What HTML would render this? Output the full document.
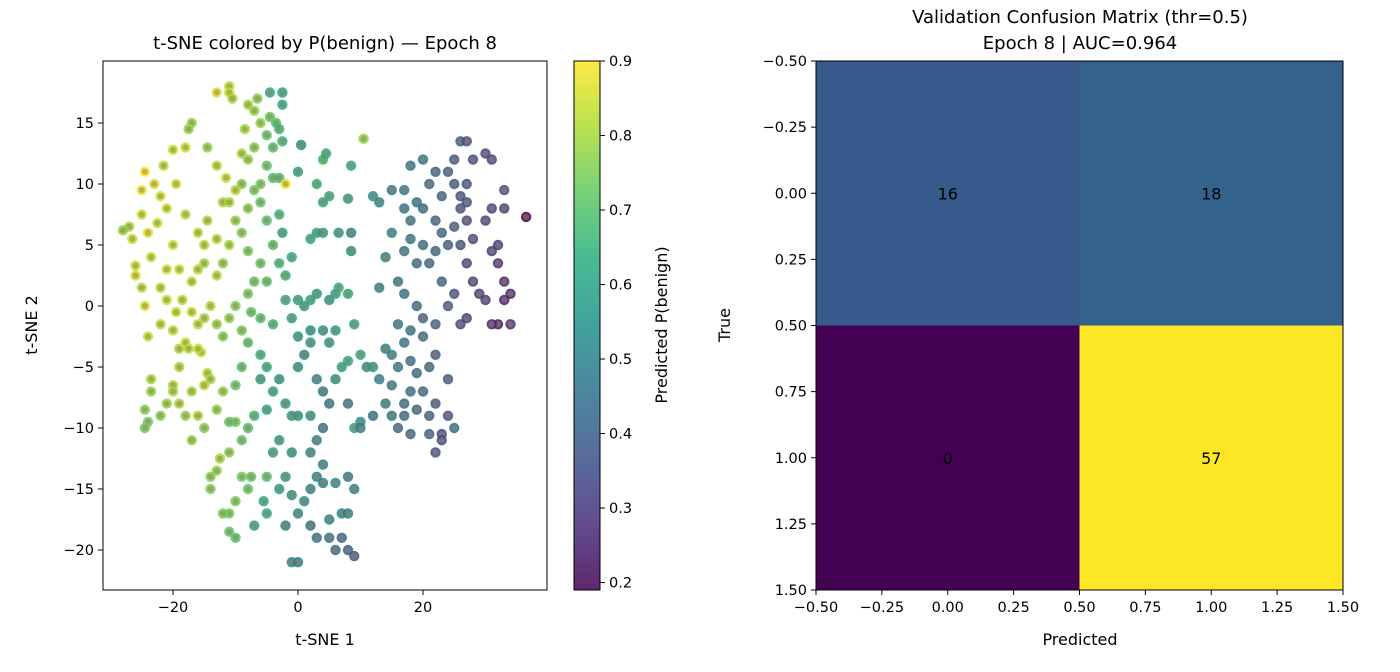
<!DOCTYPE html>
<html><head><meta charset="utf-8"><style>
html,body{margin:0;padding:0;background:#fff;}
svg{display:block;font-family:"DejaVu Sans","Liberation Sans",sans-serif;}
</style></head><body>
<svg id="fig" width="1400" height="672" viewBox="0 0 1400 672" xmlns="http://www.w3.org/2000/svg">
<rect width="1400" height="672" fill="#fff"/>
<defs>
<linearGradient id="vgrad" x1="0" y1="1" x2="0" y2="0">
<stop offset="0" stop-color="#440154"/><stop offset="0.125" stop-color="#472d7b"/><stop offset="0.25" stop-color="#3b528b"/><stop offset="0.375" stop-color="#2c728e"/><stop offset="0.5" stop-color="#21918c"/><stop offset="0.625" stop-color="#28ae80"/><stop offset="0.75" stop-color="#5ec962"/><stop offset="0.875" stop-color="#addc30"/><stop offset="1" stop-color="#fde725"/>
</linearGradient>
</defs>
<g id="left"></g>
<g id="cbar"></g>
<g id="right"></g>
</svg>
<script>
const tsneX = [-11,-11,-10.5,-13,-8,-7,-6.5,-4.5,-2.5,-2.5,-6,-4.5,-3.5,-8.5,-9,-8,-7,-5,-4,-3,-2.5,-17,-17.5,-20,-21.5,-18,-19.5,-14.5,-13,-11.5,-10,-12,-11,-9,-6,-5,-4,-3,-2,0,0.5,4,4.5,3,4,5,3,2,4,6.5,8,8.5,8.5,10.5,8.5,
-24.5,-25,-23,-22,-21,-22.5,-24,-25,-23.5,-26,-27,-28,-26.5,-26,-25,-24.5,-24,-22,-20,-19,-18,-19.5,-18.5,-17,-16,-15,-14,-13,-12,-11,-10,-17,-16,-15,-13,-12,-11,-13,-14.5,-16,-18,-20,-19,-21,-22,-21,-15,-10,-9,-8,-6,-5,-4,-3,-7,-8,-9,-7.5,-6,-4,-2,0,1,2,3,-1,0,2,4,5,6,-2,-2.5,-1,-3,-5,-6,-7,-8,6.5,
-14.5,-15.5,-16,-17.5,-19,-20,-21,-23.5,-24.5,-24,-24.5,-22,-23.5,-20,-19,-18,-17,-15,-14,-12,-13,-16,-17,-15,-12.5,-13,-14,-11,-9,-10,-11,-8,-7,-5,-9,-7.5,-5,-8,-10,-11,-12,-14,-10,-11,-7,-5,-2,-1,0,0,1,2,3,4,5,2,3,5,6,7,8,9,7,8,9,6,3,4,2,0,-1,-2,-4,-3,-5,-6,-8,-9,-10,-6,0,1,2,3,4,5,6,7,8,6,5,8,9,10,11,12,10,9,8,4,2,-1,-3,-4,-2,-1,-3,-5.5,
15,17,18,20,21,22,23,24,25,26,27,28,30,31,25,27,26,27,20,17,18,19,22,23,25,26,27,28,30,31,33,33,36.5,32,31,32,33,34,33,32,31,34,30,29,28,27,26,24,22,21,19,17,18,20,15,14,13,12,16,17,19,20,22,24,25,26,27,23,13,16,18,20,14,15,17,16,18,19,21,22,24,20,18,17,19,21,22,24,23,25,21,17,15,18,13,12,10,8,16,14,15,22,23];
const tsneY = [18,17.5,17,17.5,16.5,16,17,17.5,17.5,16.5,15,15.5,15,14.5,12.5,12,13,14,13,14.5,13.5,15,14.5,12.8,11.5,13,10,13,11.5,10.5,9.5,8.5,8.5,10,10,11.5,10.5,10.5,10,11,13.2,12,12.5,10,8.5,9,6,5.5,6,6,8.8,6,4.5,13.7,11.5,
11,9.5,10,9,8,6.8,6,7.5,4,2.5,6.5,6.2,5.5,3.3,1.5,0,-2.5,-1.5,-2,-3.5,-3,-0.5,0.5,-0.5,-1.5,-1,0,-1.5,-2.5,-1,0,2,3,3.5,2.5,3.5,5,5.5,7,6,7.5,5,3,3,1.5,0.5,5,7,6,4.5,3.5,2,5,3.5,2,1,-2,-0.5,-1,-1.5,0.5,0.5,0,0.5,1,-1,-2.5,-2,-2,0.5,1,2.5,6,4,7.5,7,8.5,9.5,8,1.5,
-5.5,-3.8,-3.5,-3.5,-5,-6.5,-8,-6,-8.5,-9.5,-10,-9,-7,-7,-8,-9,-7,-6.5,-6,-7,-8.5,-9,-11,-10,-12.5,-13.5,-14,-12,-11,-9.5,-9.5,-10,-9,-8.5,-14,-14,-14,-15,-16,-17,-17,-15,-19,-18.5,-18,-17,-18,-21,-21,-17,-16,-15,-14,-14.5,-17.5,-18,-19,-19,-20,-19,-20,-20.5,-17,-17,-15,-14.5,-11,-10,-9,-9,-9,-8,-7,-6,-5,-4,-3,-5,-6.5,-6,-5,-4,-3,-6,-7,-8,-6,-5,-4.5,-2,-3,-8,-10,-9.5,-5,-5,-4,-1.5,1,-13,-12,-12,-11,-12,-14,-15.5,-15,-16,
9.5,9.5,11.5,12,10,11,9,11,12,13.5,13.5,12,12.5,12,10,10,9,8.5,8,8,7,8.5,7,6,6.5,8,7,5.5,7,8,9.5,8,7.3,5,4.5,3.5,2,1,0.5,-1.5,-1.5,-1.5,0.5,1,2,3.5,5,5,4.5,3.5,3.5,4.5,5.5,5,6,4,8.5,9,2,1,0,-1,-1.5,0,1,-1.5,-1,2,1.5,-1.5,-2,-2.5,-3.5,-4,-3,-5,-4.5,-5.5,-5,-4,-6,-7,-7,-8,-8.5,-9,-8,-9,-10.5,-10,-10.5,-9,-9,-10.5,-6,-9,-10,-14,-10,-8,-6.5,-12,-11];
const tsneP = [.82,.84,.8,.86,.8,.78,.76,.62,.6,.62,.78,.72,.7,.8,.8,.78,.76,.72,.7,.66,.65,.78,.78,.84,.82,.84,.85,.78,.82,.84,.82,.8,.8,.76,.74,.72,.7,.68,.88,.6,.55,.66,.62,.64,.62,.62,.6,.62,.58,.56,.58,.5,.55,.78,.62,
.9,.88,.86,.85,.84,.84,.86,.84,.84,.85,.8,.78,.84,.84,.82,.86,.84,.82,.82,.8,.84,.84,.82,.84,.82,.8,.82,.78,.76,.78,.76,.82,.82,.8,.82,.78,.8,.82,.8,.82,.82,.84,.84,.84,.82,.84,.82,.78,.76,.74,.72,.7,.7,.66,.72,.74,.74,.72,.7,.66,.62,.6,.58,.6,.58,.6,.56,.55,.55,.56,.6,.64,.6,.62,.66,.7,.72,.74,.76,.64,
.82,.84,.84,.82,.8,.8,.78,.8,.76,.74,.74,.76,.78,.8,.8,.78,.8,.82,.8,.78,.78,.8,.78,.76,.8,.78,.76,.76,.72,.74,.72,.7,.66,.6,.74,.72,.7,.72,.74,.74,.74,.76,.7,.72,.6,.62,.5,.5,.48,.52,.54,.52,.5,.5,.5,.45,.45,.45,.42,.42,.4,.38,.5,.5,.5,.52,.5,.45,.55,.55,.58,.58,.6,.56,.62,.64,.7,.7,.72,.58,.55,.52,.56,.5,.48,.46,.55,.6,.62,.58,.56,.45,.62,.55,.55,.58,.62,.6,.62,.5,.52,.55,.58,.6,.58,.55,.58,.62,
.48,.48,.46,.46,.42,.4,.42,.4,.38,.38,.36,.35,.34,.33,.38,.36,.36,.35,.44,.46,.46,.45,.42,.42,.4,.36,.34,.34,.32,.32,.35,.32,.19,.3,.3,.28,.26,.25,.25,.24,.26,.27,.3,.3,.32,.32,.36,.4,.42,.42,.44,.46,.46,.44,.5,.5,.52,.55,.46,.46,.44,.42,.4,.38,.36,.34,.32,.4,.5,.48,.46,.44,.5,.5,.46,.48,.44,.44,.42,.4,.38,.42,.44,.44,.42,.4,.38,.36,.34,.44,.4,.44,.46,.42,.5,.46,.5,.48,.44,.48,.48,.36,.34];
const tsneXTicks = [-20, 0, 20];
const tsneYTicks = [-20, -15, -10, -5, 0, 5, 10, 15];
const cbarTicks = [0.2, 0.3, 0.4, 0.5, 0.6, 0.7, 0.8, 0.9];
const cmCounts = [[16, 18], [0, 57]];
const cmTicks = [-0.5, -0.25, 0, 0.25, 0.5, 0.75, 1, 1.25, 1.5];

const NS = "http://www.w3.org/2000/svg";
function mk(parent, tag, attrs, text) {
  const e = document.createElementNS(NS, tag);
  for (const k in attrs) e.setAttribute(k, attrs[k]);
  if (text !== undefined) e.textContent = text;
  parent.appendChild(e);
  return e;
}
const VIR = [[68,1,84],[71,45,123],[59,82,139],[44,114,142],[33,145,140],[40,174,128],[94,201,98],[173,220,48],[253,231,37]];
function viridis(t) {
  t = Math.max(0, Math.min(1, t));
  const f = t * 8, i = Math.min(7, Math.floor(f)), r = f - i;
  const c = VIR[i].map((v, k) => Math.round(v + (VIR[i + 1][k] - v) * r));
  return `rgb(${c[0]},${c[1]},${c[2]})`;
}
function fmt(v, d) { return (v < 0 ? "\u2212" : "") + Math.abs(v).toFixed(d); }
const TF = 14.5, LF = 16, HF = 18;

// ---------- t-SNE ----------
const L = document.getElementById("left");
const ax = { x0: 103, x1: 547, y0: 61, y1: 590 };
const sx = v => 298 + v * 6.25;
const sy = v => 306 - v * 12.2;
const vmin = 0.19, vmax = 0.9;
const pts = mk(L, "g", {});


const n = Math.min(tsneX.length, tsneY.length, tsneP.length);
for (let i = 0; i < n; i++) {
  const col = viridis((tsneP[i] - vmin) / (vmax - vmin));
  const g = mk(pts, "g", {});
  
  
  mk(g, "circle", { cx: sx(tsneX[i]), cy: sy(tsneY[i]), r: 5.2, fill: col, "fill-opacity": 0.85 });
  mk(g, "circle", { cx: sx(tsneX[i]), cy: sy(tsneY[i]), r: 3, fill: "rgb(150,125,95)", "fill-opacity": 0.55 });
}
const frame = mk(L, "rect", { x: ax.x0, y: ax.y0, width: ax.x1 - ax.x0, height: ax.y1 - ax.y0, fill: "none", stroke: "#000", "stroke-width": 1 });


tsneXTicks.forEach(v => {
  const x = sx(v);
  mk(L, "line", { x1: x, x2: x, y1: ax.y1, y2: ax.y1 + 5, stroke: "#000" });
  const t = mk(L, "text", { x: x, y: ax.y1 + 22, "text-anchor": "middle", "font-size": TF }, fmt(v, 0));
  
  
});
tsneYTicks.forEach(v => {
  const y = sy(v);
  mk(L, "line", { x1: ax.x0 - 5, x2: ax.x0, y1: y, y2: y, stroke: "#000" });
  const t = mk(L, "text", { x: ax.x0 - 9, y: y + 5, "text-anchor": "end", "font-size": TF }, fmt(v, 0));
  
  
});
let t1 = mk(L, "text", { x: 325, y: 49, "text-anchor": "middle", "font-size": HF }, "t-SNE colored by P(benign) \u2014 Epoch 8");


t1 = mk(L, "text", { x: 325, y: 645, "text-anchor": "middle", "font-size": LF }, "t-SNE 1");


t1 = mk(L, "text", { x: 37, y: 325, "text-anchor": "middle", "font-size": LF, transform: "rotate(-90 37 325)" }, "t-SNE 2");



// ---------- colorbar ----------
const C = document.getElementById("cbar");
const cb = { x: 574, w: 26, y0: 61, y1: 590 };
const cy = v => cb.y1 - (v - vmin) / (vmax - vmin) * (cb.y1 - cb.y0);
mk(C, "rect", { x: cb.x, y: cb.y0, width: cb.w, height: cb.y1 - cb.y0, fill: "url(#vgrad)", "fill-opacity": 0.85 });
mk(C, "rect", { x: cb.x, y: cb.y0, width: cb.w, height: cb.y1 - cb.y0, fill: "none", stroke: "#000" });
cbarTicks.forEach(v => {
  const y = cy(v);
  mk(C, "line", { x1: cb.x + cb.w, x2: cb.x + cb.w + 5, y1: y, y2: y, stroke: "#000" });
  const t = mk(C, "text", { x: cb.x + cb.w + 9, y: y + 5, "font-size": TF }, v.toFixed(1));
  
  
});
t1 = mk(C, "text", { x: 667, y: 325, "text-anchor": "middle", "font-size": LF, transform: "rotate(-90 667 325)" }, "Predicted P(benign)");



// ---------- confusion matrix ----------
const R = document.getElementById("right");
const cm = { x0: 816, x1: 1343, y0: 61, y1: 590 };
const mx = v => cm.x0 + (v + 0.5) / 2 * (cm.x1 - cm.x0);
const my = v => cm.y0 + (v + 0.5) / 2 * (cm.y1 - cm.y0);
const cmMax = Math.max(...cmCounts.flat());
for (let r = 0; r < 2; r++) for (let c = 0; c < 2; c++) {
  const val = cmCounts[r][c];
  const cell = mk(R, "rect", { x: mx(c - 0.5), y: my(r - 0.5), width: mx(c + 0.5) - mx(c - 0.5), height: my(r + 0.5) - my(r - 0.5), fill: viridis(val / cmMax) });
  
  
  const t = mk(R, "text", { x: mx(c), y: my(r) + 6, "text-anchor": "middle", "font-size": LF }, String(val));
  
  
}
mk(R, "rect", { x: cm.x0, y: cm.y0, width: cm.x1 - cm.x0, height: cm.y1 - cm.y0, fill: "none", stroke: "#000" });
cmTicks.forEach(v => {
  const x = mx(v), y = my(v);
  mk(R, "line", { x1: x, x2: x, y1: cm.y1, y2: cm.y1 + 5, stroke: "#000" });
  let t = mk(R, "text", { x: x, y: cm.y1 + 22, "text-anchor": "middle", "font-size": TF }, fmt(v, 2));
  
  
  mk(R, "line", { x1: cm.x0 - 5, x2: cm.x0, y1: y, y2: y, stroke: "#000" });
  t = mk(R, "text", { x: cm.x0 - 9, y: y + 5, "text-anchor": "end", "font-size": TF }, fmt(v, 2));
  
  
});
t1 = mk(R, "text", { x: 1080, y: 23, "text-anchor": "middle", "font-size": HF }, "Validation Confusion Matrix (thr=0.5)");


t1 = mk(R, "text", { x: 1080, y: 49, "text-anchor": "middle", "font-size": HF }, "Epoch 8 | AUC=0.964");


t1 = mk(R, "text", { x: 1080, y: 645, "text-anchor": "middle", "font-size": LF }, "Predicted");


t1 = mk(R, "text", { x: 730, y: 325, "text-anchor": "middle", "font-size": LF, transform: "rotate(-90 730 325)" }, "True");


</script>
</body></html>
